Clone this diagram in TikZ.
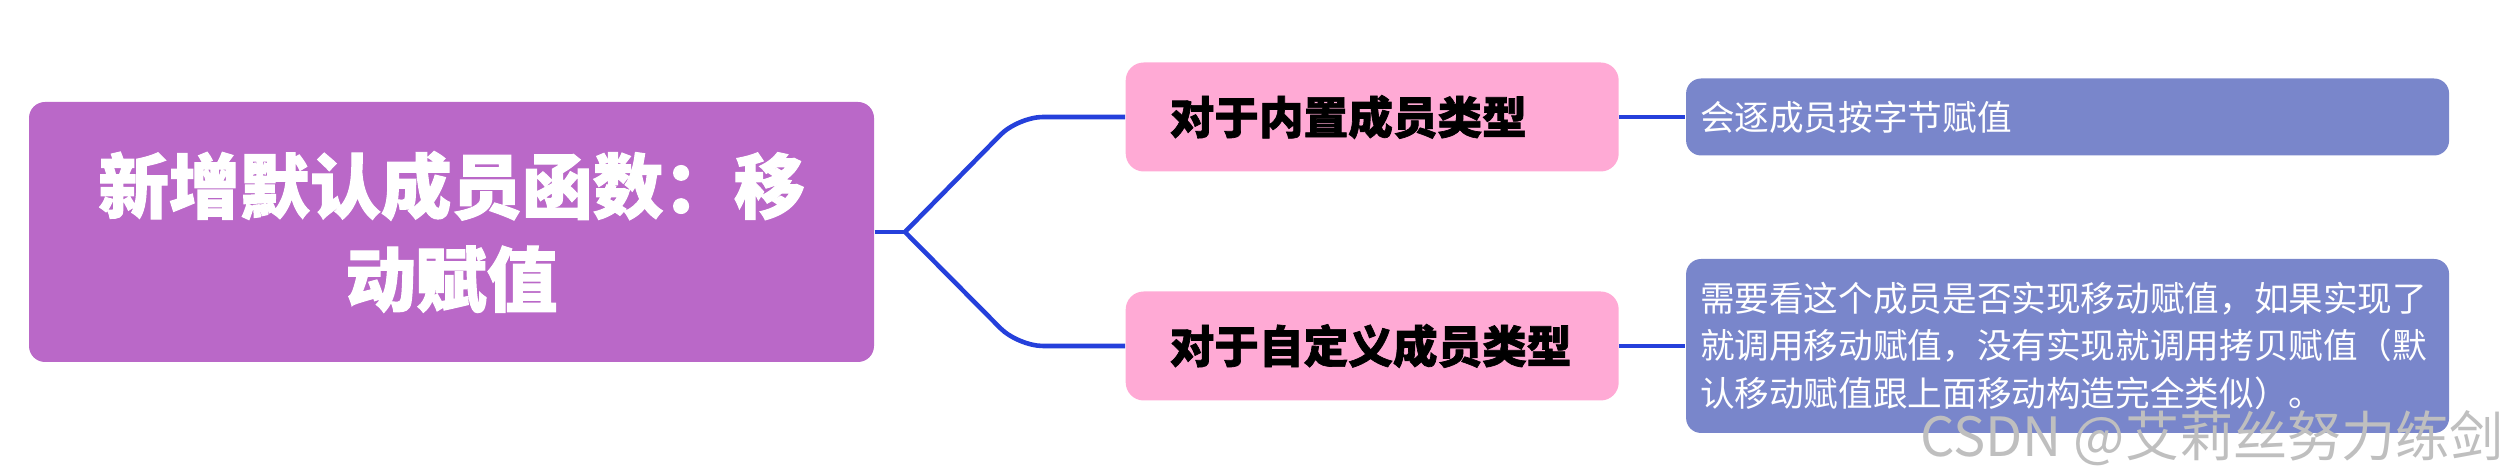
\documentclass[tikz,border=0pt]{standalone}
\usepackage{fontspec}
\setmainfont{Noto Sans CJK SC}
\newfontfamily\heavyfont{Noto Sans CJK SC}[BoldFeatures={FakeBold=1.5}]
\usepackage{xcolor}
\usepackage{tikz}
\usetikzlibrary{positioning}
\definecolor{rootcolor}{RGB}{186, 104, 200}
\definecolor{branchcolor}{RGB}{255, 170, 213}
\definecolor{leafcolor}{RGB}{121, 134, 203}
\definecolor{linkcolor}{RGB}{37, 64, 219}

\begin{document}
\begin{tikzpicture}[
    x=0.1mm, y=-0.1mm,
    node distance=6.6mm,
    rootbox/.style={fill=rootcolor, rounded corners=1.6mm, minimum width=84.5mm, minimum height=26mm, align=center, text=white, font=\heavyfont\bfseries\fontsize{20.1pt}{26.5pt}\selectfont},
    branchbox/.style={fill=branchcolor, rounded corners=1.8mm, minimum height=10.9mm, text width=40.5mm, inner xsep=4.4mm, align=left, font=\heavyfont\bfseries\fontsize{12.7pt}{15pt}\selectfont},
    leafbox/.style={fill=leafcolor, rounded corners=1.5mm, text width=73.5mm, inner xsep=1.4mm, align=left, text=white, font=\fontsize{9.85pt}{13.4pt}\selectfont},
    link/.style={draw=linkcolor, line width=1.3pt}
]
    \useasboundingbox (0,0) rectangle (2499,474);

    \node[rootbox] (root) at (451.5,232) {新增默认成员函数：移\\动赋值};
    \coordinate (fork) at (905,232);

    \node[branchbox, anchor=west] (builtin) at (1125,117) {对于内置成员类型};
    \node[branchbox, anchor=west] (custom) at (1125,346) {对于自定义成员类型};

    \node[leafbox, minimum height=7.7mm, right=of builtin] (bytewise) {会逐成员按字节赋值};
    \node[leafbox, minimum height=17.4mm, right=of custom] (depends) {需要看这个成员是否实现移动赋值，如果实现了\\就调用移动赋值，没有实现就调用拷贝赋值（默\\认移动赋值跟上面移动构造完全类似）。};

    \draw[link] (root.east) -- (fork);
    \draw[link, rounded corners=2.5mm] (fork) -- ([xshift=-10.7mm]builtin.west) -- (builtin.west);
    \draw[link, rounded corners=2.5mm] (fork) -- ([xshift=-10.7mm]custom.west) -- (custom.west);
    \draw[link] (builtin.east) -- (bytewise.west);
    \draw[link] (custom.east) -- (depends.west);

    % watermark
    \node[text=gray!50, font=\fontsize{15.4pt}{18pt}\selectfont] (mark) at (2212,438) {CSDN @艾莉丝努力练剑};
\end{tikzpicture}
\end{document}
